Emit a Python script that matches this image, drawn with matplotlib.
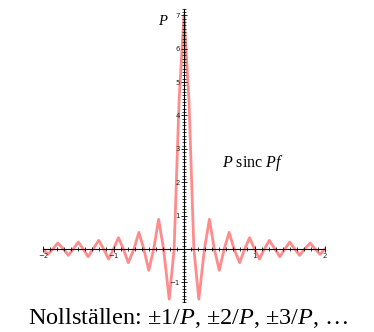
import numpy as np
import matplotlib
matplotlib.use("Agg")
import matplotlib.pyplot as plt
from matplotlib.ticker import MultipleLocator

plt.rcParams['mathtext.fontset'] = 'custom'
plt.rcParams['mathtext.rm'] = 'Liberation Serif'
plt.rcParams['mathtext.it'] = 'Liberation Serif:italic'

# curve vertices (right half, f >= 0); left half mirrors it
f_right = [0.00, 0.07, 0.14, 0.21, 0.29, 0.36, 0.43, 0.50, 0.57, 0.64, 0.71,
           0.79, 0.86, 0.93, 1.00, 1.07, 1.14, 1.21, 1.29, 1.36, 1.43, 1.50,
           1.57, 1.64, 1.71, 1.79, 1.86, 1.93, 2.00]
y_right = [7.00, 4.46, 0.00, -1.50, 0.00, 0.89, 0.00, -0.64, 0.00, 0.50, 0.00,
           -0.41, 0.00, 0.34, 0.00, -0.30, 0.00, 0.26, 0.00, -0.23, 0.00, 0.21,
           0.00, -0.19, 0.00, 0.18, 0.00, -0.16, 0.00]

f_vals = np.concatenate([-np.array(f_right[:0:-1]), f_right])
y_vals = np.concatenate([y_right[:0:-1], y_right])

x_ticks = [-2, -1, 1, 2]
y_ticks = [-1, 1, 2, 3, 4, 5, 6, 7]

fig = plt.figure(figsize=(3.74, 3.32), dpi=100)
ax = fig.add_axes([0.115, 0.089, 0.754, 0.885])

ax.plot(f_vals, y_vals, color='#ff7878', lw=2.0, alpha=0.85, zorder=1)

ax.set_xlim(-2, 2)
ax.set_ylim(-1.6, 7.2)
for side in ('top', 'right'):
    ax.spines[side].set_visible(False)
ax.spines['left'].set_position(('data', 0))
ax.spines['bottom'].set_position(('data', 0))
for side in ('left', 'bottom'):
    ax.spines[side].set_linewidth(0.8)
    ax.spines[side].set_zorder(3)

ax.set_xticks(x_ticks)
ax.set_yticks(y_ticks)
ax.xaxis.set_minor_locator(MultipleLocator(0.1))
ax.yaxis.set_minor_locator(MultipleLocator(0.1))
ax.tick_params(which='major', direction='inout', length=4, width=0.7,
               labelsize=5, pad=1, colors='#222222')
ax.tick_params(which='minor', direction='inout', length=2.5, width=0.6,
               colors='#222222')

ax.text(-0.30, 6.85, '$P$', fontsize=10.5, ha='center', va='center')
ax.text(0.98, 2.57, '$P$ sinc $Pf$', fontsize=11.5, ha='center', va='center',
        family='Liberation Serif')

fig.text(0.503, 0.042, 'Nollställen: ±1/$P$, ±2/$P$, ±3/$P$, …', fontsize=17.5,
         ha='center', va='center', family='Liberation Serif')

fig.savefig('out.png', dpi=100)
